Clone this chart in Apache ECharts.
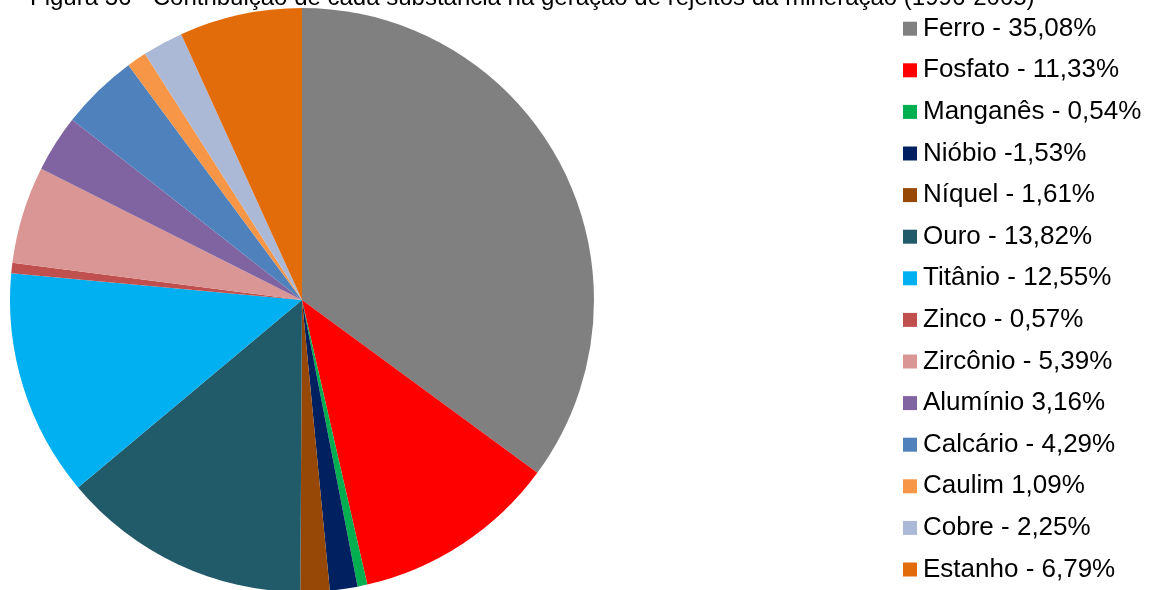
<!DOCTYPE html>
<html>
<head>
<meta charset="utf-8">
<script src="https://cdn.jsdelivr.net/npm/echarts@6/dist/echarts.min.js"></script>
<style>
  html, body { margin: 0; padding: 0; background: #ffffff; }
  #chart { width: 1156px; height: 590px; }
</style>
</head>
<body>
<div id="chart"></div>
<script>
// Substances and their share of mining tailings (%)
const substances = ['Ferro', 'Fosfato', 'Manganês', 'Nióbio', 'Níquel', 'Ouro', 'Titânio',
  'Zinco', 'Zircônio', 'Alumínio', 'Calcário', 'Caulim', 'Cobre', 'Estanho'];
const shares = [35.08, 11.33, 0.54, 1.53, 1.61, 13.82, 12.55, 0.57, 5.39, 3.16, 4.29, 1.09, 2.25, 6.79];
const legendLabels = ['Ferro - 35,08%', 'Fosfato - 11,33%', 'Manganês - 0,54%', 'Nióbio -1,53%',
  'Níquel - 1,61%', 'Ouro - 13,82%', 'Titânio - 12,55%', 'Zinco - 0,57%', 'Zircônio - 5,39%',
  'Alumínio 3,16%', 'Calcário - 4,29%', 'Caulim 1,09%', 'Cobre - 2,25%', 'Estanho - 6,79%'];
const sliceColors = ['#808080', '#FF0000', '#00B050', '#002060', '#974806', '#215A69', '#00B0F0',
  '#C0504D', '#D99694', '#8064A2', '#4F81BD', '#F79646', '#ABB9D7', '#E36C0A'];
const titleText = 'Figura 36 - Contribuição de cada substância na geração de rejeitos da mineração (1996-2005)';

const labelByName = {};
substances.forEach((s, i) => { labelByName[s] = legendLabels[i]; });

const chart = echarts.init(document.getElementById('chart'), null, { renderer: 'canvas' });
chart.setOption({
  animation: false,
  color: sliceColors,
  title: {
    text: titleText,
    left: 30,
    top: -14,
    padding: 0,
    textStyle: {
      fontFamily: 'Liberation Sans, Arial, sans-serif',
      fontSize: 24,
      fontWeight: 'normal',
      color: '#000000'
    }
  },
  legend: {
    orient: 'vertical',
    left: 903,
    top: 15.7,
    padding: 0,
    itemWidth: 14,
    itemHeight: 14,
    itemGap: 15.6,
    icon: 'rect',
    selectedMode: false,
    data: substances,
    formatter: name => labelByName[name],
    textStyle: {
      fontFamily: 'Liberation Sans, Arial, sans-serif',
      fontSize: 26,
      lineHeight: 26,
      color: '#000000',
      padding: [0, 0, 0, 1]
    }
  },
  series: [{
    type: 'pie',
    center: [302, 300],
    radius: [0, 292],
    startAngle: 90,
    clockwise: true,
    label: { show: false },
    labelLine: { show: false },
    emphasis: { disabled: true },
    itemStyle: { borderWidth: 0 },
    data: substances.map((s, i) => ({ name: s, value: shares[i] }))
  }]
});
</script>
</body>
</html>
